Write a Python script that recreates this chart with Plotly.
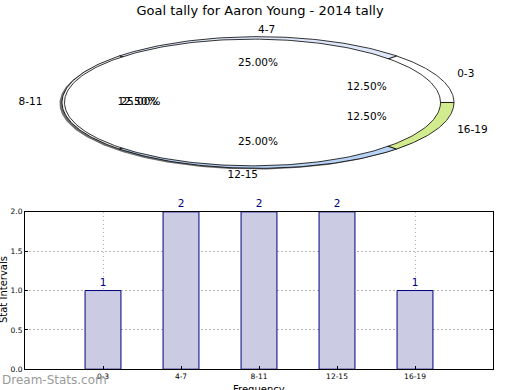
import numpy as np
import plotly.graph_objects as go

# ---- data ----
categories = ["0-3", "4-7", "8-11", "12-15", "16-19"]
values = [1, 2, 2, 2, 1]
pie_colors = ["#ffffff", "#dfe8fa", "#f4f4f4", "#b9d3f5", "#d3eb8f"]
title_text = "Goal tally for Aaron Young - 2014 tally"
y_ticks = [0.0, 0.5, 1.0, 1.5, 2.0]

# ---- pie geometry (pixel frame of top panel, design height 390) ----
CX, CY, RX, RY = 258.0, 99.5, 196.0, 66.5
ICX, ICY, IRX, IRY = 252.5, 99.5, 188.0, 64.0
FONT = "DejaVu Sans"
H = 390.0  # design frame height

def ell(cx, cy, rx, ry, t):
    return cx + rx * np.cos(t), cy - ry * np.sin(t)

fig = go.Figure()

# shadow
t = np.linspace(0, 2 * np.pi, 300)
sx, sy = ell(CX - 2.5, CY + 1.2, RX, RY, t)
fig.add_trace(go.Scatter(x=sx, y=sy, fill="toself", fillcolor="#707070",
                         line=dict(color="#707070", width=0), mode="lines",
                         xaxis="x2", yaxis="y2", hoverinfo="skip", showlegend=False))

total = sum(values)
start = 0.0
mids = []
for cat, v, col in zip(categories, values, pie_colors):
    a0 = start
    a1 = start + v / total * 2 * np.pi
    tt = np.linspace(a0, a1, 80)
    ex, ey = ell(CX, CY, RX, RY, tt)
    xs = np.concatenate([[CX], ex, [CX]])
    ys = np.concatenate([[CY], ey, [CY]])
    fig.add_trace(go.Scatter(x=xs, y=ys, fill="toself", fillcolor=col,
                             line=dict(color="black", width=0.8), mode="lines",
                             xaxis="x2", yaxis="y2", hoverinfo="skip", showlegend=False))
    mids.append((a0 + a1) / 2)
    start = a1

# inner white ellipse
ix, iy = ell(ICX, ICY, IRX, IRY, t)
fig.add_trace(go.Scatter(x=ix, y=iy, fill="toself", fillcolor="white",
                         line=dict(color="black", width=0.8), mode="lines",
                         xaxis="x2", yaxis="y2", hoverinfo="skip", showlegend=False))

# labels and percentages
for cat, v, m in zip(categories, values, mids):
    lx, ly = ell(CX, CY, RX * 1.1, RY * 1.1, m)
    pos = "middle right" if np.cos(m) > 0 else "middle left"
    fig.add_trace(go.Scatter(x=[lx], y=[ly], mode="text", text=[cat], textposition=pos,
                             textfont=dict(family=FONT, size=10.5, color="black"),
                             xaxis="x2", yaxis="y2", hoverinfo="skip", showlegend=False))
    px_, py_ = ell(CX, CY, RX * 0.6, RY * 0.6, m)
    fig.add_trace(go.Scatter(x=[px_], y=[py_], mode="text", text=[f"{v / total * 100:.2f}%"],
                             textposition="middle center",
                             textfont=dict(family=FONT, size=10.5, color="black"),
                             xaxis="x2", yaxis="y2", hoverinfo="skip", showlegend=False))
# overlapping extra percentage text at left slice
lx2, ly2 = ell(CX, CY, RX * 0.6, RY * 0.6, mids[2])
fig.add_trace(go.Scatter(x=[lx2 - 3], y=[ly2], mode="text",
                         text=[f"{values[0] / total * 100:.2f}%"], textposition="middle center",
                         textfont=dict(family=FONT, size=10.5, color="black"),
                         xaxis="x2", yaxis="y2", hoverinfo="skip", showlegend=False))

# ---- bar chart ----
fig.add_trace(go.Bar(x=categories, y=values, width=0.46,
                     marker=dict(color="#cbcbe3", line=dict(color="#000080", width=1)),
                     text=[str(v) for v in values], textposition="outside",
                     textfont=dict(family=FONT, size=10.5, color="#000080"),
                     cliponaxis=False, showlegend=False))

GRID_DASH = "1.5px,2.5px"
fig.update_layout(
    width=520, height=395,
    margin=dict(l=0, r=0, t=0, b=0),
    paper_bgcolor="white", plot_bgcolor="white",
    font=dict(family=FONT, color="black"),
    title=dict(text=title_text, x=0.5, xanchor="center", y=1 - 10 / H, yanchor="middle",
               font=dict(family=FONT, size=13, color="black")),
    xaxis=dict(domain=[25 / 520, 493 / 520], range=[-1, 5], type="category",
               showgrid=True, gridcolor="#b4b4b4", griddash=GRID_DASH, gridwidth=1,
               showline=True, mirror=True, linecolor="black", linewidth=1,
               ticks="inside", ticklen=3, tickcolor="black",
               tickfont=dict(family=FONT, size=7.5, color="black"), zeroline=False),
    yaxis=dict(domain=[21 / H, 180 / H], range=[0, 2],
               tickvals=y_ticks, ticktext=[f"{v:.1f}" for v in y_ticks],
               showgrid=True, gridcolor="#b4b4b4", griddash=GRID_DASH, gridwidth=1,
               showline=True, mirror="ticks", linecolor="black", linewidth=1,
               ticks="inside", ticklen=3, tickcolor="black",
               tickfont=dict(family=FONT, size=7.5, color="black"), zeroline=False),
    xaxis2=dict(domain=[0, 1], range=[0, 520], visible=False, anchor="y2"),
    yaxis2=dict(domain=[0.5, 1], range=[195, 0], visible=False, anchor="x2"),
    bargap=0.5,
)

fig.add_annotation(text="Stat Intervals", textangle=-90, x=3 / 520, y=(H - 289) / H,
                   xref="paper", yref="paper", showarrow=False, xanchor="center", yanchor="middle",
                   font=dict(family=FONT, size=10, color="black"))
fig.add_annotation(text="Frequency", x=259 / 520, y=(H - 389) / H,
                   xref="paper", yref="paper", showarrow=False, xanchor="center", yanchor="middle",
                   font=dict(family=FONT, size=10, color="black"))
fig.add_annotation(text="Dream-Stats.com", x=0, y=(H - 380) / H,
                   xref="paper", yref="paper", showarrow=False, xanchor="left", yanchor="middle",
                   font=dict(family=FONT, size=12, color="#9a9a9a"))

fig.write_html("out.html", config={"displayModeBar": False},
               post_script="document.body.style.margin='0';document.body.style.overflow='hidden';")
